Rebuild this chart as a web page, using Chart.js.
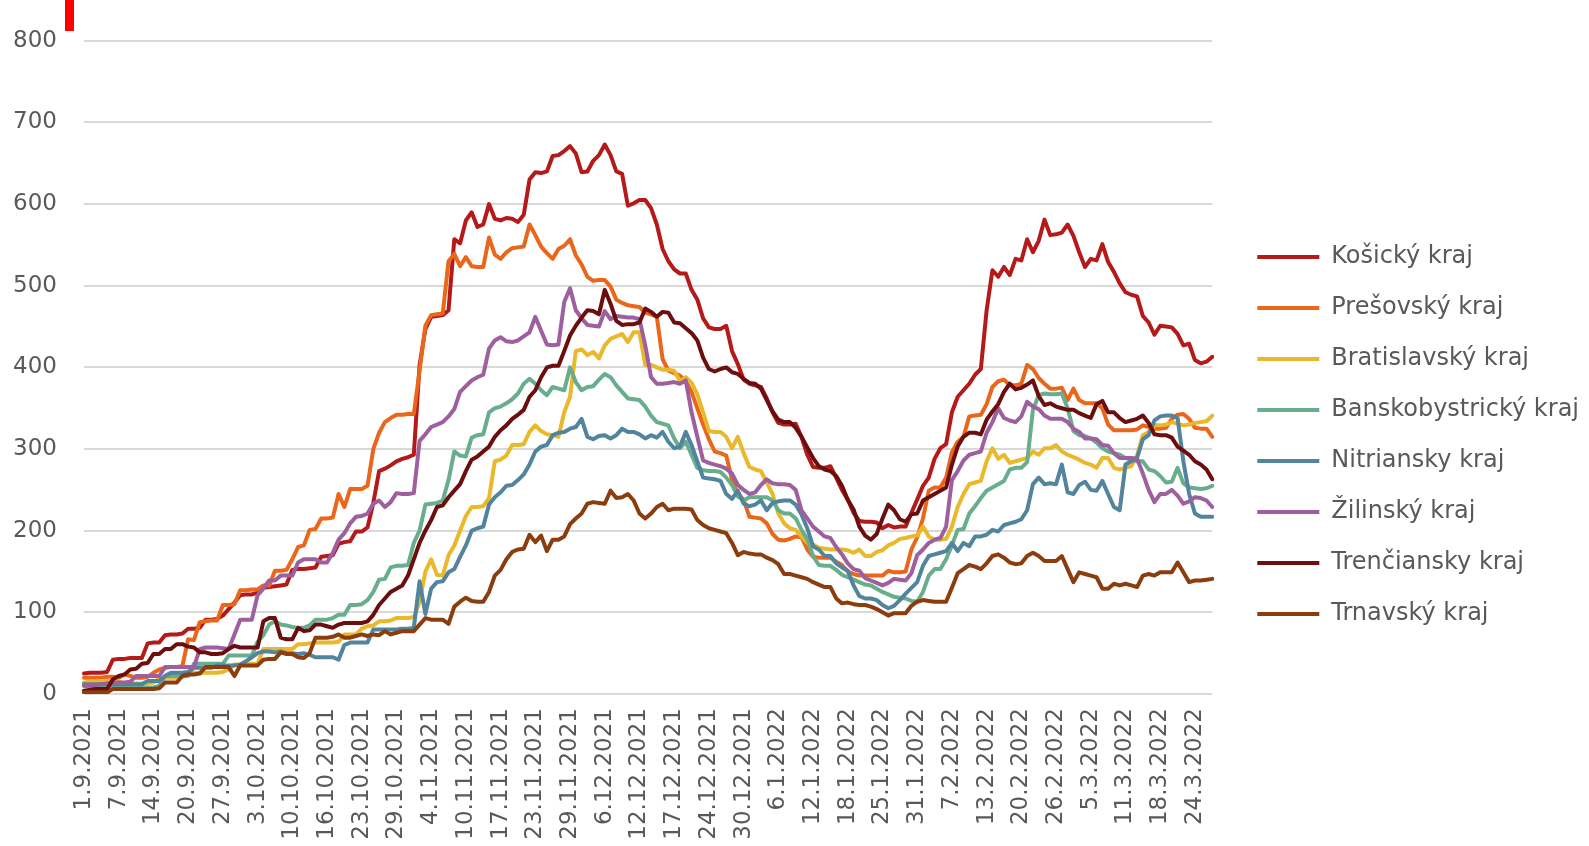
<!DOCTYPE html>
<html>
<head>
<meta charset="utf-8">
<script src="https://cdn.jsdelivr.net/npm/chart.js@4"></script>
<style>
  body { margin: 0; background: #fff; }
  #wrap { position: relative; width: 1589px; height: 846px; }
  #mark { position: absolute; left: 65px; top: 0; width: 9px; height: 31px; background: #ff0000; }
</style>
</head>
<body>
<div id="wrap">
  <canvas id="chart" width="1589" height="846"></canvas>
  <div id="mark"></div>
</div>
<script>
// x axis labels, one every 6 points
const tickLabels = ['1.9.2021', '7.9.2021', '14.9.2021', '20.9.2021', '27.9.2021', '3.10.2021', '10.10.2021',
    '16.10.2021', '23.10.2021', '29.10.2021', '4.11.2021', '10.11.2021', '17.11.2021', '23.11.2021', '29.11.2021',
    '6.12.2021', '12.12.2021', '17.12.2021', '24.12.2021', '30.12.2021', '6.1.2022', '12.1.2022', '18.1.2022',
    '25.1.2022', '31.1.2022', '7.2.2022', '13.2.2022', '20.2.2022', '26.2.2022', '5.3.2022', '11.3.2022',
    '18.3.2022', '24.3.2022'];
const labelStep = 6;

const regions = ['Košický kraj', 'Prešovský kraj', 'Bratislavský kraj', 'Banskobystrický kraj',
    'Nitriansky kraj', 'Žilinský kraj', 'Trenčiansky kraj', 'Trnavský kraj'];

const kosice = [25,26,26,26,27,42, 43,43,44,44,44,62, 63,63,72,73,73,74, 80,80,81,91,91,92,
    96,104,112,121,122,122, 124,130,131,132,133,134, 152,153,153,154,155,168, 169,170,184,186,187,199,
    199,204,234,273,276,280, 285,288,290,293,403,447, 462,463,464,470,557,552, 580,590,572,575,600,582,
    580,583,582,578,587,630, 639,638,640,659,660,665, 671,662,639,640,653,660, 673,660,640,637,598,601,
    605,605,595,575,545,530, 520,515,515,495,483,460, 449,447,447,451,420,404, 385,380,378,376,362,345,
    332,330,330,331,315,293, 278,277,277,279,265,250, 238,222,212,211,211,210, 203,207,204,205,205,222,
    238,255,265,288,301,306, 345,364,372,380,391,398, 470,519,511,523,513,533, 531,557,541,555,581,562,
    563,565,575,561,541,523, 533,531,551,529,517,503, 492,489,487,463,455,440, 451,450,449,441,427,429,
    409,405,407,413];
const presov = [20,20,20,20,21,21, 20,24,22,20,20,21, 26,30,32,33,33,34, 67,66,88,89,90,90,
    109,109,110,127,127,128, 128,133,133,151,151,152, 165,180,182,201,202,215, 215,216,245,229,251,251,
    251,255,300,320,333,338, 342,342,343,343,396,451, 464,465,466,530,539,524, 535,524,523,523,559,538,
    533,541,546,547,548,575, 562,548,540,533,545,549, 557,537,526,511,506,507, 507,499,483,479,476,475,
    474,467,465,462,410,396, 393,390,383,370,350,330, 312,297,295,292,262,245, 238,217,216,215,209,196,
    189,188,190,193,192,177, 168,167,167,167,162,158, 150,147,145,145,145,145, 145,151,149,149,150,177,
    192,215,249,253,253,265, 296,309,315,340,341,342, 355,376,383,385,378,378, 380,403,398,387,380,374,
    374,375,360,374,360,356, 356,356,350,330,323,323, 323,323,324,329,327,325, 325,326,337,342,343,337,
    326,325,325,315];
const bratislava = [14,15,15,16,16,16, 15,13,13,13,13,13, 14,19,20,20,20,21, 26,26,26,26,26,26,
    27,30,36,36,36,37, 37,55,55,55,55,55, 55,61,61,62,63,63, 63,63,64,73,73,73,
    80,83,84,89,89,90, 93,93,93,94,113,150, 165,146,145,170,182,200, 218,229,229,230,240,285,
    287,292,305,305,306,321, 329,322,318,317,315,345, 364,420,422,415,419,411, 427,435,438,441,431,443,
    443,403,403,400,397,397, 396,383,388,381,367,345, 322,321,321,315,301,315, 295,278,275,273,259,245,
    221,209,203,201,193,185, 183,179,178,177,177,177, 176,173,177,169,169,174, 176,182,185,190,191,193,
    194,205,193,189,189,190, 205,229,245,257,259,261, 285,301,288,293,283,285, 287,289,297,293,301,301,
    305,297,293,290,287,283, 281,277,289,289,277,275, 277,279,292,317,321,329, 329,330,333,331,329,330,
    332,333,334,341];
const banskaBystrica = [10,9,9,8,8,8, 8,8,8,8,8,8, 8,10,22,22,22,22, 22,37,37,37,37,37,
    37,47,47,47,47,47, 64,72,85,89,85,84, 82,81,81,84,91,91, 91,93,97,97,109,109,
    110,115,125,140,141,155, 157,157,158,185,200,232, 233,234,237,262,297,292, 291,314,317,318,345,350,
    352,356,361,368,380,386, 380,372,366,376,374,372, 400,382,372,376,377,385, 392,388,378,370,362,361,
    360,352,341,333,331,329, 313,301,309,293,277,274, 273,273,272,265,256,242, 237,241,241,241,241,237,
    225,221,221,215,201,190, 169,158,157,157,152,146, 143,140,137,134,133,129, 125,122,119,118,117,114,
    113,125,145,153,153,165, 182,201,202,221,230,240, 249,253,257,261,275,277, 277,284,348,366,368,367,
    367,368,350,322,317,316, 313,308,301,297,295,293, 289,287,285,285,275,273, 267,259,260,277,258,253,
    252,251,252,255];
const nitra = [12,12,12,12,12,12, 12,12,12,12,12,16, 16,16,22,26,26,26, 27,32,32,32,32,35,
    35,35,35,36,40,45, 50,52,52,51,52,50, 50,49,50,48,45,45, 45,45,42,60,63,63,
    63,63,79,79,79,79, 79,80,80,81,138,98, 129,137,138,149,153,168, 182,200,203,205,232,241,
    247,255,256,262,269,281, 297,303,305,317,320,321, 325,327,337,315,312,316, 317,313,317,325,321,321,
    318,313,317,314,321,309, 301,303,321,305,285,265, 264,263,261,245,239,249, 233,230,232,237,225,234,
    236,237,237,232,220,203, 181,177,169,169,160,155, 151,133,120,117,117,115, 109,105,108,115,123,130,
    137,157,169,171,173,175, 185,175,185,181,193,193, 195,201,199,207,209,211, 214,225,257,265,257,258,
    257,281,247,245,256,260, 250,249,261,245,229,225, 281,285,289,312,317,335, 340,341,341,338,285,245,
    221,217,217,217];
const zilina = [10,10,11,12,13,14, 14,14,15,22,22,22, 22,22,33,33,33,33, 33,33,55,57,57,57,
    56,55,73,91,91,91, 121,129,139,139,145,145, 145,161,165,165,165,161, 161,173,189,197,209,217,
    218,221,233,237,229,235, 246,245,245,246,310,318, 327,330,333,340,349,370, 377,384,388,391,423,433,
    437,432,431,433,438,443, 462,445,428,427,428,480, 497,470,460,452,451,450, 469,459,463,462,461,461,
    459,427,388,380,380,381, 382,380,384,345,315,286, 283,281,279,276,270,256, 250,245,247,256,263,258,
    257,257,256,250,225,215, 205,199,193,191,180,171, 160,153,151,142,139,136, 133,136,141,140,139,148,
    170,177,185,189,191,205, 262,273,286,293,295,297, 320,333,350,338,335,333, 340,358,352,349,341,337,
    337,337,333,325,321,313, 313,312,305,304,295,289, 289,289,288,270,250,235, 245,245,250,243,233,236,
    241,240,237,229];
const trencin = [4,5,6,6,6,18, 22,24,30,31,37,38, 49,49,55,55,61,61, 58,57,51,51,49,49,
    50,55,59,57,57,57, 57,89,93,93,69,67, 67,81,77,78,85,85, 83,81,85,87,87,87,
    87,89,97,109,117,125, 129,133,145,165,185,200, 213,229,231,241,249,257, 273,287,291,297,303,315,
    323,329,337,342,348,364, 372,388,400,402,402,420, 439,451,461,470,469,465, 495,478,457,452,453,453,
    455,472,468,462,468,467, 455,454,448,442,433,412, 398,395,398,400,394,392, 386,381,380,374,360,346,
    336,333,333,326,315,302, 289,279,275,273,267,255, 238,226,205,194,189,196, 215,232,225,214,211,220,
    221,237,241,245,249,253, 281,303,315,320,320,318, 336,346,355,370,380,373, 375,379,384,365,354,356,
    352,350,348,348,344,341, 338,355,359,345,345,338, 333,335,337,341,332,318, 317,317,314,303,298,293,
    285,281,275,263];
const trnava = [2,2,2,2,2,6, 6,6,6,6,6,6, 6,7,14,14,14,22, 24,24,25,33,33,33,
    33,33,22,35,35,35, 35,42,43,43,51,49, 49,45,44,50,69,69, 69,70,73,69,69,71,
    73,71,73,72,77,73, 75,77,77,77,85,93, 91,91,91,86,107,113, 118,114,113,113,125,145,
    152,165,174,177,178,195, 186,194,175,189,189,193, 208,215,221,233,235,234, 233,249,240,241,245,237,
    221,215,221,229,233,225, 227,227,227,226,213,207, 203,201,199,197,185,170, 174,172,171,171,167,164,
    159,147,147,145,143,141, 137,134,131,131,117,111, 112,110,109,109,107,104, 100,96,99,99,99,108,
    113,115,114,113,113,113, 130,148,153,158,156,153, 160,169,171,167,161,159, 160,169,173,169,163,163,
    163,169,153,137,149,147, 145,143,129,129,135,133, 135,133,131,145,147,145, 149,149,149,161,149,137,
    139,139,140,141];

const colors = ['#b51a1b', '#ea661a', '#e9b82b', '#68ae8e', '#53849e', '#9e5f9f', '#6d0e0e', '#8b3d0e'];
const series = [kosice, presov, bratislava, banskaBystrica, nitra, zilina, trencin, trnava];

// every point gets a category, only every 6th one shows its date
const labels = kosice.map((_, i) => i % labelStep === 0 ? tickLabels[i / labelStep] : '');

const textColor = '#595959';
const font = { family: 'DejaVu Sans', size: 23 };

new Chart(document.getElementById('chart'), {
    type: 'line',
    data: {
        labels: labels,
        datasets: series.map((values, i) => ({
            label: regions[i],
            data: values,
            borderColor: colors[i],
            backgroundColor: colors[i],
            borderWidth: 4,
            borderJoinStyle: 'round',
            borderCapStyle: 'round',
            pointRadius: 0,
            tension: 0,
            order: series.length - i   // later series drawn on top, like the original
        }))
    },
    options: {
        responsive: false,
        animation: false,
        layout: { padding: { top: 25, left: 0, right: 0, bottom: 0 } },
        plugins: {
            tooltip: { enabled: false },
            legend: {
                position: 'right',
                align: 'center',
                maxWidth: 400,
                labels: {
                    usePointStyle: true,
                    pointStyle: 'line',
                    pointStyleWidth: 62,
                    padding: 27,
                    color: textColor,
                    font: { family: 'DejaVu Sans', size: 24 },
                    sort: (a, b) => a.datasetIndex - b.datasetIndex
                }
            }
        },
        scales: {
            x: {
                grid: { display: false },
                border: { display: false },
                ticks: {
                    autoSkip: false,
                    minRotation: 90,
                    maxRotation: 90,
                    padding: 6,
                    color: textColor,
                    font: font
                },
                afterFit: s => { s.height = 152; }
            },
            y: {
                min: 0,
                max: 800,
                border: { display: false },
                grid: { color: '#d9d9d9', lineWidth: 2, drawTicks: false },
                ticks: { stepSize: 100, padding: 27, color: textColor, font: font },
                afterFit: s => { s.width = 84; }
            },
            gap: {
                type: 'linear',
                position: 'right',
                grid: { display: false },
                border: { display: false },
                ticks: { display: false },
                afterFit: s => { s.width = 18; }
            }
        }
    }
});
</script>
</body>
</html>
